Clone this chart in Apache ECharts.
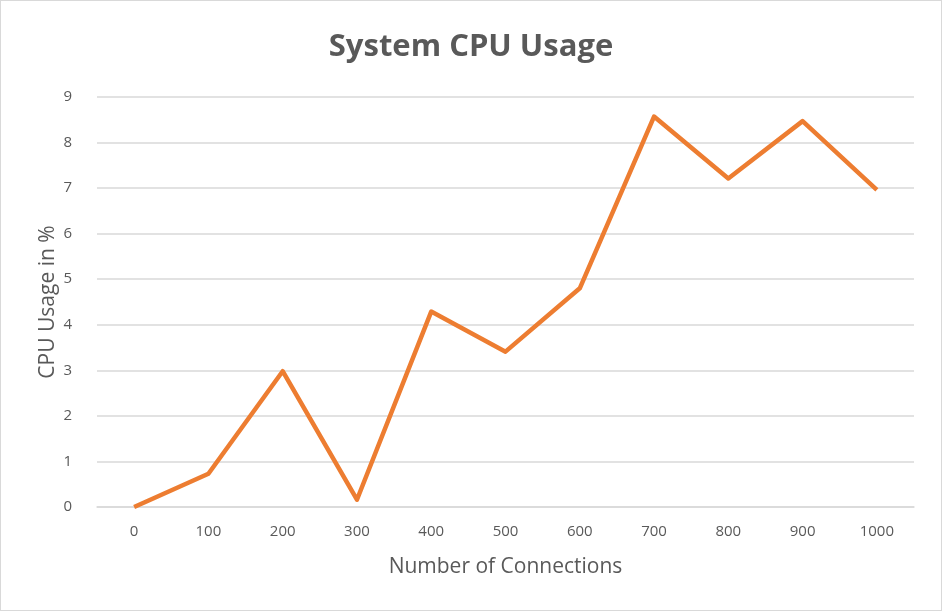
<!DOCTYPE html>
<html>
<head>
<meta charset="utf-8">
<script src="https://cdn.jsdelivr.net/npm/echarts@6/dist/echarts.min.js"></script>
<style>
html,body{margin:0;padding:0;background:#fff;}
#c{width:942px;height:611px;box-sizing:border-box;border:1px solid #d9d9d9;}
</style>
</head>
<body>
<div id="c"></div>
<script>
const categories = ['0','100','200','300','400','500','600','700','800','900','1000'];
const cpuUsage = [0, 0.73, 2.98, 0.16, 4.29, 3.41, 4.80, 8.57, 7.21, 8.47, 6.96];
const yTicks = {min: 0, max: 9, interval: 1};

const chart = echarts.init(document.getElementById('c'));
chart.setOption({
  animation: false,
  title: {
    text: 'System CPU Usage',
    left: 'center',
    top: 26,
    textStyle: {fontFamily: 'Open Sans', fontWeight: 'bold', fontSize: 31, color: '#595959'}
  },
  grid: {left: 96, right: 27, top: 96, bottom: 103, containLabel: false},
  xAxis: {
    type: 'category',
    data: categories,
    boundaryGap: true,
    name: 'Number of Connections',
    nameLocation: 'middle',
    nameGap: 50,
    nameMoveOverlap: false,
    nameTextStyle: {fontFamily: 'Open Sans', fontSize: 21, color: '#595959'},
    axisLine: {lineStyle: {color: '#d9d9d9', width: 1.5}},
    axisTick: {show: false},
    axisLabel: {fontFamily: 'Open Sans', fontSize: 15, color: '#595959', margin: 17}
  },
  yAxis: {
    type: 'value',
    min: yTicks.min, max: yTicks.max, interval: yTicks.interval,
    name: 'CPU Usage in %',
    nameLocation: 'middle',
    nameGap: 38,
    nameMoveOverlap: false,
    nameTextStyle: {fontFamily: 'Open Sans', fontSize: 21, color: '#595959'},
    axisLine: {show: false},
    axisTick: {show: false},
    axisLabel: {fontFamily: 'Open Sans', fontSize: 15, color: '#595959', margin: 25},
    splitLine: {lineStyle: {color: '#d9d9d9', width: 1.5}}
  },
  series: [{
    type: 'line',
    data: cpuUsage,
    symbol: 'none',
    lineStyle: {color: '#ED7D31', width: 4.5, join: 'round'}
  }]
});
</script>
</body>
</html>
